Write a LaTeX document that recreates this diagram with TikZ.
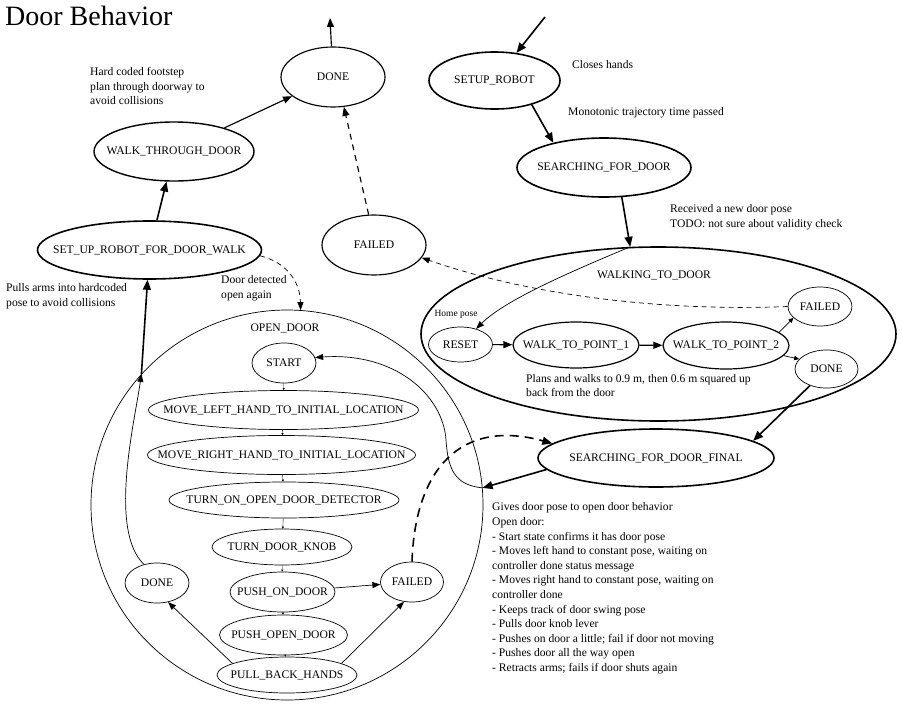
\documentclass[tikz,border=0pt]{standalone}
\usepackage{fontspec}
\setmainfont{Liberation Serif}
\usetikzlibrary{shapes.geometric,arrows.meta}
\newcommand\zbx[1]{\makebox[0pt]{#1}}
\begin{document}
\begin{tikzpicture}[x=1pt,y=-1pt,
  st/.style={ellipse,draw,inner sep=0pt,font=\fontsize{11.6}{14}\selectfont},
  thn/.style={line width=0.7pt},
  med/.style={line width=1.15pt},
  thk/.style={line width=1.6pt},
  ann/.style={font=\fontsize{11.6}{14.6}\selectfont,align=left,inner sep=0pt,anchor=west},
  lbl/.style={font=\fontsize{11.6}{14}\selectfont,inner sep=0pt},
  thickarr/.style={line width=1.6pt,-{Triangle[length=10pt,width=8pt]}},
  medarr/.style={line width=1.15pt,-{Triangle[length=9pt,width=7pt]}},
  thinarr/.style={line width=0.7pt,-{Triangle[length=8pt,width=6pt]}},
  smallarr/.style={line width=0.7pt,-{Triangle[length=5pt,width=4.5pt]}},
  tinyarr/.style={line width=0.4pt,-{Triangle[length=2pt,width=2pt]}},
]
\useasboundingbox (0,0) rectangle (902,707);

% title
\node[anchor=base west,font=\fontsize{28}{30}\selectfont,inner sep=0pt] (title) at (5,25) {Door Behavior};

% clusters
\node[ellipse,draw,thk,minimum width=475pt,minimum height=174pt,inner sep=0pt] (wtd) at (658.5,334) {};
\node[lbl] (wtdlbl) at (654,275) {WALKING\_TO\_DOOR};
\node[ellipse,draw,thn,minimum width=392pt,minimum height=390pt,inner sep=0pt] (od) at (287,505) {};
\node[lbl] (odlbl) at (285,328) {OPEN\_DOOR};

% top level states
\node[st,med,minimum width=104pt,minimum height=60pt] (done1) at (333,77) {\zbx{DONE}};
\node[st,line width=1.4pt,minimum width=160pt,minimum height=59pt] (wtdoor) at (174,151.5) {\zbx{WALK\_THROUGH\_DOOR}};
\node[st,thk,minimum width=224pt,minimum height=58pt] (suwalk) at (149.5,250) {\zbx{SET\_UP\_ROBOT\_FOR\_DOOR\_WALK}};
\node[st,med,minimum width=104pt,minimum height=60pt] (failed1) at (374,245) {\zbx{FAILED}};
\node[st,thk,minimum width=131pt,minimum height=57pt] (setup) at (494.5,80.5) {\zbx{SETUP\_ROBOT}};
\node[st,thk,minimum width=174pt,minimum height=59pt] (sfd) at (604,167.5) {\zbx{SEARCHING\_FOR\_DOOR}};
\node[st,thk,minimum width=236pt,minimum height=58pt] (sfdf) at (656,458) {\zbx{SEARCHING\_FOR\_DOOR\_FINAL}};

% walking to door inner
\node[st,thn,minimum width=64pt,minimum height=35pt] (reset) at (460.5,344.5) {\zbx{RESET}};
\node[st,line width=1.2pt,minimum width=126pt,minimum height=46pt] (wtp1) at (576,345) {\zbx{WALK\_TO\_POINT\_1}};
\node[st,line width=1.2pt,minimum width=126pt,minimum height=47pt] (wtp2) at (726,345.5) {\zbx{WALK\_TO\_POINT\_2}};
\node[st,thn,minimum width=64pt,minimum height=39pt] (failed2) at (820,306.5) {\zbx{FAILED}};
\node[st,thn,minimum width=63pt,minimum height=38pt] (done2) at (826.5,369) {\zbx{DONE}};
\node[font=\fontsize{9.5}{11}\selectfont,inner sep=0pt] (home) at (456,314) {Home pose};

% open door inner
\node[st,thn,minimum width=64pt,minimum height=40pt] (start) at (284,363) {\zbx{START}};
\node[st,thn,minimum width=270pt,minimum height=39pt] (ml) at (283.5,410) {\zbx{MOVE\_LEFT\_HAND\_TO\_INITIAL\_LOCATION}};
\node[st,thn,minimum width=268pt,minimum height=39pt] (mr) at (281.5,455) {\zbx{MOVE\_RIGHT\_HAND\_TO\_INITIAL\_LOCATION}};
\node[st,thn,minimum width=230pt,minimum height=36pt] (tod) at (284,500) {\zbx{TURN\_ON\_OPEN\_DOOR\_DETECTOR}};
\node[st,thn,minimum width=140pt,minimum height=36pt] (tdk) at (282,547) {\zbx{TURN\_DOOR\_KNOB}};
\node[st,thn,minimum width=105pt,minimum height=40pt] (pod) at (282.5,592) {\zbx{PUSH\_ON\_DOOR}};
\node[st,thn,minimum width=128pt,minimum height=40pt] (pods) at (283.5,635) {\zbx{PUSH\_OPEN\_DOOR}};
\node[st,thn,minimum width=140pt,minimum height=36pt] (pbh) at (287,675) {\zbx{PULL\_BACK\_HANDS}};
\node[st,thn,minimum width=64pt,minimum height=40pt] (done3) at (157,583) {\zbx{DONE}};
\node[st,thn,minimum width=63pt,minimum height=40pt] (failed3) at (412,582) {\zbx{FAILED}};

% annotations
\node[ann] (a1) at (90,86) {Hard coded footstep\\plan through doorway to\\avoid collisions};
\node[ann] (a2) at (6,296.5) {Pulls arms into hardcoded\\pose to avoid collisions};
\node[ann] (a3) at (221,288.5) {Door detected\\open again};
\node[ann] (a4) at (572,65) {Closes hands};
\node[ann] (a5) at (568,113) {Monotonic trajectory time passed};
\node[ann] (a6) at (670,217.5) {Received a new door pose\\TODO: not sure about validity check};
\node[ann] (a7) at (526,385.5) {Plans and walks to 0.9 m, then 0.6 m squared up\\back from the door};
\node[ann] (a8) at (492,588.5) {Gives door pose to open door behavior\\Open door:\\- Start state confirms it has door pose\\- Moves left hand to constant pose, waiting on\\controller done status message\\- Moves right hand to constant pose, waiting on\\controller done\\- Keeps track of door swing pose\\- Pulls door knob lever\\- Pushes on door a little; fail if door not moving\\- Pushes door all the way open\\- Retracts arms; fails if door shuts again};

% free ends
\coordinate (init) at (545,17);
\coordinate (exit) at (330,18);

% edges top right
\draw[thickarr] (init) -- (setup);
\draw[thickarr] (setup.-33) -- (sfd.154);
\draw[thickarr] (sfd.-59) -- (wtd.108);
\draw[thinarr] (wtd.108) .. controls (570,272) and (505,300) .. (reset.45);
\draw[medarr] (reset) -- (wtp1);
\draw[medarr] (wtp1) -- (wtp2);
\draw[smallarr] (wtp2.14) -- (failed2.-157);
\draw[smallarr] (wtp2.-10) -- (done2.160);
\draw[thinarr,dash pattern=on 5pt off 4pt] (failed2.west) .. controls (650,312) and (520,292) .. (failed1.-15);
\draw[medarr,dash pattern=on 6pt off 5pt] (failed1.100) -- (done1.-70);
\draw[medarr] (done1) -- (exit);
\draw[thickarr] (done2.-135) -- (sfdf.10);
\draw[thickarr] (sfdf.186) -- (od.5);
\draw[thinarr] (od.5) .. controls (455,485) and (448,470) .. (446,440) .. controls (443,395) and (395,352) .. (start.10);
\draw[thickarr,dash pattern=on 9pt off 6pt] (failed3.north) .. controls (415,470) and (460,418) .. (sfdf.172);

% open door column
\draw[tinyarr] (start) -- (ml);
\draw[tinyarr] (ml) -- (mr);
\draw[tinyarr] (mr) -- (tod);
\draw[tinyarr] (tod) -- (tdk);
\draw[tinyarr] (tdk) -- (pod);
\draw[tinyarr] (pod) -- (pods);
\draw[tinyarr] (pods) -- (pbh);
\draw[thinarr] (pod) -- (failed3);
\draw[thinarr] (pbh.168) -- (done3.-60);
\draw[thinarr] (pbh.12) -- (failed3.-112);
\draw[thinarr] (done3.125) .. controls (108,530) and (135,420) .. (od.138);

% left side
\draw[thickarr] (od.138) -- (suwalk);
\draw[thickarr] (suwalk) -- (wtdoor);
\draw[medarr] (wtdoor) -- (done1);
\draw[thinarr,dash pattern=on 5pt off 4pt] (suwalk.-3) .. controls (285,262) and (300,280) .. (od.86);
\end{tikzpicture}
\end{document}
